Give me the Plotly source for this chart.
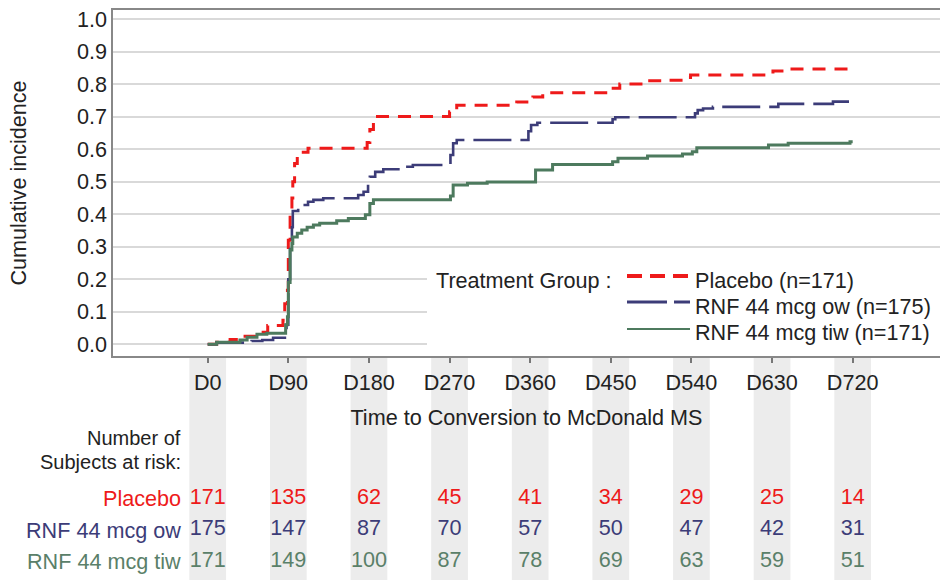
import plotly.graph_objects as go

# ---------------- data ----------------
days = [0, 90, 180, 270, 360, 450, 540, 630, 720]
day_labels = ["D0", "D90", "D180", "D270", "D360", "D450", "D540", "D630", "D720"]

groups = ["Placebo", "RNF 44 mcg ow", "RNF 44 mcg tiw"]
legend_labels = ["Placebo (n=171)", "RNF 44 mcg ow (n=175)", "RNF 44 mcg tiw (n=171)"]

placebo_t = [0, 10, 25, 38, 55, 67, 84, 86, 89, 90, 92, 94, 95, 97, 100, 103, 112,
             178, 181, 185, 270, 278, 345, 363, 374, 449, 460, 491, 509, 531, 539,
             631, 650, 720]
placebo_v = [0.0, 0.006, 0.015, 0.025, 0.037, 0.058, 0.074, 0.125, 0.166, 0.32, 0.41,
             0.45, 0.50, 0.556, 0.58, 0.59, 0.603, 0.62, 0.66, 0.70, 0.715, 0.735,
             0.745, 0.76, 0.773, 0.787, 0.80, 0.81, 0.812, 0.82, 0.828, 0.84, 0.846,
             0.855]

ow_t = [0, 10, 49, 61, 73, 88, 90, 92, 94, 95, 101, 106, 112, 118, 129, 168, 174,
        179, 181, 187, 196, 218, 229, 271, 274, 278, 358, 361, 368, 452, 455, 544,
        547, 553, 564, 637, 698, 717, 720]
ow_v = [0.0, 0.005, 0.01, 0.013, 0.02, 0.06, 0.2, 0.3, 0.36, 0.41, 0.42, 0.428,
        0.438, 0.444, 0.449, 0.459, 0.469, 0.505, 0.515, 0.53, 0.538, 0.546, 0.551,
        0.582, 0.618, 0.628, 0.655, 0.674, 0.681, 0.692, 0.698, 0.71, 0.72, 0.725,
        0.73, 0.739, 0.746, 0.754, 0.754]

tiw_t = [0, 10, 36, 44, 55, 66, 87, 89, 90, 92, 94, 95, 100, 105, 111, 118, 125,
         144, 157, 176, 181, 185, 271, 274, 290, 312, 366, 385, 452, 458, 491, 530,
         541, 546, 626, 648, 717, 720]
tiw_v = [0.0, 0.006, 0.013, 0.022, 0.031, 0.034, 0.06, 0.085, 0.19, 0.29, 0.31,
         0.33, 0.341, 0.351, 0.36, 0.367, 0.372, 0.38, 0.387, 0.398, 0.433, 0.444,
         0.456, 0.49, 0.495, 0.499, 0.536, 0.553, 0.561, 0.572, 0.579, 0.585, 0.592,
         0.604, 0.613, 0.618, 0.623, 0.623]

placebo_risk = [171, 135, 62, 45, 41, 34, 29, 25, 14]
ow_risk = [175, 147, 87, 70, 57, 50, 47, 42, 31]
tiw_risk = [171, 149, 100, 87, 78, 69, 63, 59, 51]

# ---------------- style ----------------
RED = "#ee1a1a"
NAVY = "#3c3c78"
GREEN = "#4d7a5e"
GREEN_TXT = "#5a8069"
FONT = "Liberation Sans, Arial, sans-serif"
FS = 21.6
TXT = "#222222"

W, H = 940, 580
ML, MR, MT, MB = 113, 0, 10, 0
PW, PH = W - ML - MR, H - MT - MB


def px_x(p):
    return (p - ML) / PW


def px_y(p):
    return (H - MB - p) / PH


main_bottom = px_y(356)

series = [
    (placebo_t, placebo_v, RED, "13px,9px", 3, placebo_risk, RED),
    (ow_t, ow_v, NAVY, "38px,9px", 2.6, ow_risk, NAVY),
    (tiw_t, tiw_v, GREEN, "solid", 3, tiw_risk, GREEN_TXT),
]

fig = go.Figure()
for i, (t, v, col, dash, w, risk, tcol) in enumerate(series):
    fig.add_trace(go.Scatter(
        x=t, y=v, mode="lines", line=dict(color=col, width=w, dash=dash, shape="hv"),
        name=legend_labels[i], showlegend=False, hoverinfo="x+y"))

for i, (t, v, col, dash, w, risk, tcol) in enumerate(series):
    fig.add_trace(go.Scatter(
        x=days, y=[i] * len(days), mode="text", text=[str(n) for n in risk],
        textfont=dict(family=FONT, size=FS, color=tcol), textposition="middle center",
        xaxis="x", yaxis="y2", showlegend=False, hoverinfo="skip", cliponaxis=False))

shapes = []
# grey column bands under the tick labels and the at-risk table
for d in days:
    shapes.append(dict(type="rect", xref="x", yref="paper", x0=d - 20.5, x1=d + 20.5,
                       y0=0, y1=main_bottom, fillcolor="#ececec", line=dict(width=0),
                       layer="below"))

# legend box (white, covers gridlines)
shapes.append(dict(type="rect", xref="paper", yref="paper", x0=px_x(427), x1=1.0,
                   y0=px_y(352), y1=px_y(251), fillcolor="white", line=dict(width=0),
                   layer="above"))
leg_y = [276, 302, 329]
leg_w = [4, 3, 2]
leg_dash = ["15px,8px", "40px,7px", "solid"]
for i, (t, v, col, dash, w, risk, tcol) in enumerate(series):
    shapes.append(dict(type="line", xref="paper", yref="paper", x0=px_x(627), x1=px_x(690),
                       y0=px_y(leg_y[i]), y1=px_y(leg_y[i]),
                       line=dict(color=col, width=leg_w[i], dash=leg_dash[i]),
                       layer="above"))

annotations = [
    dict(text="Treatment Group :", xref="paper", yref="paper", x=px_x(434), y=px_y(280),
         xanchor="left", yanchor="middle", showarrow=False,
         font=dict(family=FONT, size=FS, color=TXT)),
]
leg_ty = [280, 306, 332]
for i in range(3):
    annotations.append(dict(text=legend_labels[i], xref="paper", yref="paper",
                            x=px_x(693), y=px_y(leg_ty[i]), xanchor="left", yanchor="middle",
                            showarrow=False, font=dict(family=FONT, size=FS, color=TXT)))

annotations.append(dict(text="Number of", xref="paper", yref="paper", x=px_x(183),
                        y=px_y(437.5), xanchor="right", yanchor="middle", showarrow=False,
                        font=dict(family=FONT, size=20, color=TXT)))
annotations.append(dict(text="Subjects at risk:", xref="paper", yref="paper", x=px_x(183),
                        y=px_y(461.5), xanchor="right", yanchor="middle", showarrow=False,
                        font=dict(family=FONT, size=20, color=TXT)))
row_cols = [RED, NAVY, GREEN_TXT]
for i, g in enumerate(groups):
    annotations.append(dict(text=g, xref="paper", yref="y2", x=px_x(183), y=i,
                            xanchor="right", yanchor="middle", showarrow=False,
                            font=dict(family=FONT, size=FS, color=row_cols[i])))

# table axis: rows at ~498.5, 530, 561.5 px
row_px0, row_step = 498.5, 31.5
y2_range = [(580 - row_px0) / row_step, (356 - row_px0) / row_step]

fig.update_layout(
    width=W, height=H,
    margin=dict(l=ML, r=MR, t=MT, b=MB),
    paper_bgcolor="white", plot_bgcolor="white",
    font=dict(family=FONT, size=FS, color=TXT),
    shapes=shapes, annotations=annotations,
    xaxis=dict(range=[(113 - 207.7) / 0.8958, (940 - 207.7) / 0.8958],
               tickvals=days, ticktext=day_labels, ticks="outside", ticklen=5,
               tickwidth=1.5, tickcolor="#777777", showgrid=False, zeroline=False,
               showline=True, linecolor="#888888", linewidth=1.5, mirror=True,
               tickfont=dict(family=FONT, size=FS, color=TXT), ticklabelstandoff=1,
               title=dict(text="Time to Conversion to McDonald MS", standoff=16,
                          font=dict(family=FONT, size=FS, color=TXT)),
               anchor="y", fixedrange=True),
    yaxis=dict(domain=[main_bottom, 1], range=[(344.3 - 356) / 325.3, (344.3 - 10) / 325.3],
               tickvals=[i / 10 for i in range(11)],
               ticktext=[f"{i / 10:.1f}" for i in range(11)], ticks="",
               showgrid=True, gridcolor="#d9d9d9", gridwidth=1.5, zeroline=False,
               showline=True, linecolor="#888888", linewidth=1.5,
               tickfont=dict(family=FONT, size=FS, color=TXT),
               title=dict(text="Cumulative incidence", standoff=44,
                          font=dict(family=FONT, size=FS, color=TXT)),
               anchor="x", automargin=False),
    yaxis2=dict(domain=[0, main_bottom], range=y2_range, visible=False, anchor="x",
                showgrid=False, zeroline=False),
)

fig.write_html("out.html", config={"displayModeBar": False},
               post_script="document.body.style.margin='0px';")
